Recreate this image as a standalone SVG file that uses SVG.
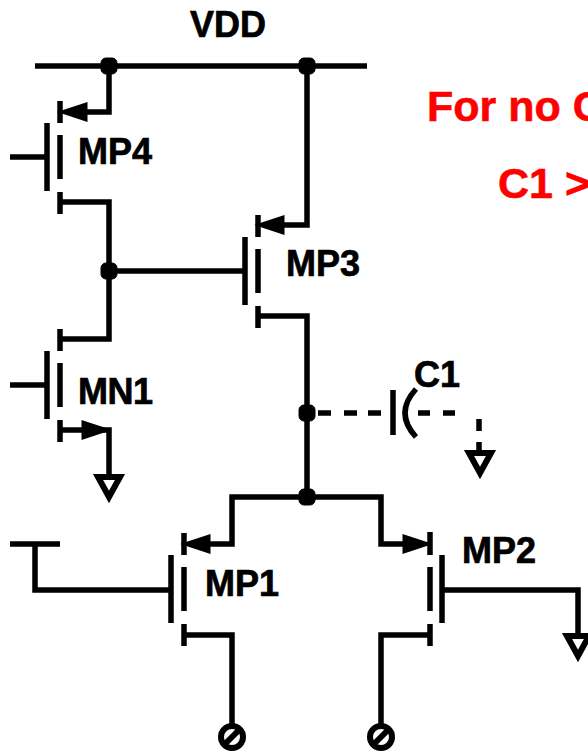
<svg xmlns="http://www.w3.org/2000/svg" width="588" height="751" viewBox="0 0 588 751">
<style>
.w{fill:none;stroke:#000;stroke-width:5.5;stroke-linejoin:miter}
.b{fill:none;stroke:#000;stroke-width:5.5}
.g{fill:#fff;stroke:#000;stroke-width:6;stroke-linejoin:miter}
.t{font-family:"Liberation Sans",Arial,sans-serif;font-weight:700;font-size:36px;fill:#000;stroke:#000;stroke-width:.7}
.r{font-family:"Liberation Sans",Arial,sans-serif;font-weight:700;font-size:43px;fill:#f00;stroke:#f00;stroke-width:.6}
</style>
<defs>
<g id="mos">
<path class="b" d="M47 123V191M60 101V123M60 135V179M60 192V214"/>
</g>
<polygon id="ah" points="0,0 24,-8 24,8" fill="#000" stroke="#000" stroke-width="3" stroke-linejoin="miter"/>
<rect id="dot" x="-8" y="-8" width="16" height="16" rx="5" fill="#000" stroke="#000" stroke-width="1"/>
<g id="gnd"><polygon class="g" points="-11,0 11,0 0,20"/></g>
<g id="pad"><circle r="11" fill="#fff" stroke="#000" stroke-width="6"/><path d="M-8 8L8 -8" stroke="#000" stroke-width="6"/></g>
</defs>
<rect width="588" height="751" fill="#fff"/>
<g id="connectors">
<path class="w" d="M35 66H367"/>
<path class="w" d="M109 66V112H70"/>
<path class="w" d="M307 66V225H267"/>
<path class="w" d="M60 202H109V339H60"/>
<path class="w" d="M109 271H245"/>
<path class="w" d="M10 157H47"/>
<path class="w" d="M10 385H47"/>
<path class="w" d="M60 430H109V476"/>
<path class="w" d="M258 316H307V497"/>
<path class="w" d="M192 544H232V497H381V544H420"/>
<path class="w" d="M10 544H60M35 544V590H171"/>
<path class="w" d="M183 635H232V728"/>
<path class="w" d="M430 635H381V728"/>
<path class="w" d="M442 590H578V634"/>
<path class="w" d="M318 413H331M344 413H357M368 413H381M418 413H430M443 413H455M479 419V431M479 442V452"/>
</g>
<g id="vdd"><text class="t" x="190" y="37">VDD</text></g>
<g id="mp4"><use href="#mos"/><use href="#ah" x="62" y="112"/><text class="t" x="78" y="164">MP4</text></g>
<g id="mn1"><use href="#mos" y="228"/><use href="#ah" transform="translate(107 430) scale(-1 1)"/><text class="t" x="78" y="404" textLength="75">MN1</text></g>
<g id="mp3"><use href="#mos" x="198" y="114"/><use href="#ah" x="259" y="225"/><text class="t" x="286" y="276">MP3</text></g>
<g id="mp1"><use href="#mos" x="124" y="432"/><use href="#ah" x="185" y="544"/><text class="t" x="205" y="596">MP1</text></g>
<g id="mp2"><path class="b" d="M442 555V623M430 532V555M430 567V611M430 624V646"/><use href="#ah" transform="translate(428 544) scale(-1 1)"/><text class="t" x="462" y="563">MP2</text></g>
<g id="c1"><path class="b" d="M393 390V435"/><path class="b" d="M416 389Q394 413 416 437"/><text class="t" x="414" y="387">C1</text></g>
<g id="junctions"><use href="#dot" x="109" y="66"/><use href="#dot" x="307" y="66"/><use href="#dot" x="109" y="271"/><use href="#dot" x="307" y="413"/><use href="#dot" x="307" y="497"/></g>
<g id="gnd1"><use href="#gnd" x="109" y="477"/></g>
<g id="gnd2"><use href="#gnd" x="480" y="453"/></g>
<g id="gnd3"><use href="#gnd" x="578" y="636"/></g>
<g id="pad1"><use href="#pad" x="232" y="737"/></g>
<g id="pad2"><use href="#pad" x="381" y="737"/></g>
<g id="note"><text class="r" x="427" y="121">For no C</text><text class="r" x="498" y="198">C1 &gt;</text></g>
</svg>
